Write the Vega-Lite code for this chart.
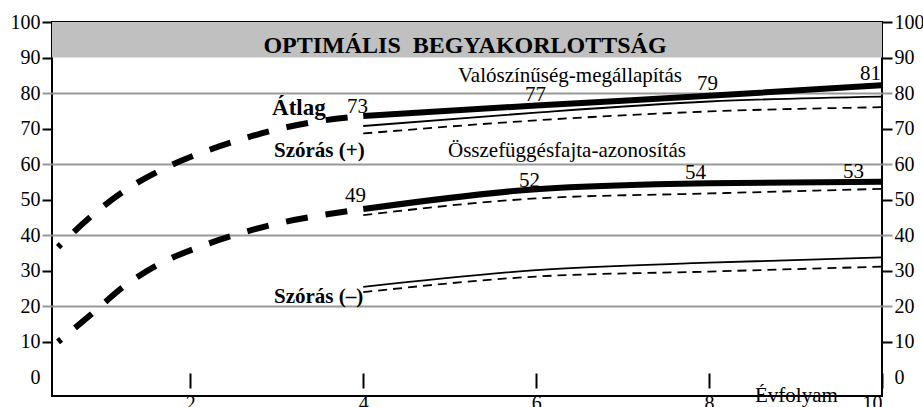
{
  "$schema": "https://vega.github.io/schema/vega-lite/v6.json",
  "width": 830,
  "height": 374,
  "autosize": "none",
  "padding": {"left": 52, "top": 22, "right": 41, "bottom": 11},
  "background": "white",
  "config": {
    "view": {"stroke": "black", "strokeWidth": 2},
    "font": "Liberation Serif",
    "axis": {"labelFont": "Liberation Serif", "labelFontSize": 20, "labelColor": "black", "tickColor": "black"}
  },
  "datasets": {
    "lines": [
      {"series": "V_avg_dash", "style": "thickdash", "x": 0.47, "y": 36.6},
      {"series": "V_avg_dash", "style": "thickdash", "x": 0.84, "y": 45.0},
      {"series": "V_avg_dash", "style": "thickdash", "x": 1.24, "y": 52.5},
      {"series": "V_avg_dash", "style": "thickdash", "x": 1.65, "y": 58.2},
      {"series": "V_avg_dash", "style": "thickdash", "x": 2.11, "y": 63.0},
      {"series": "V_avg_dash", "style": "thickdash", "x": 2.57, "y": 66.8},
      {"series": "V_avg_dash", "style": "thickdash", "x": 3.01, "y": 69.8},
      {"series": "V_avg_dash", "style": "thickdash", "x": 3.52, "y": 72.2},
      {"series": "V_avg_dash", "style": "thickdash", "x": 4.0, "y": 73.5},
      {"series": "O_avg_dash", "style": "thickdash", "x": 0.47, "y": 9.9},
      {"series": "O_avg_dash", "style": "thickdash", "x": 0.87, "y": 18.0},
      {"series": "O_avg_dash", "style": "thickdash", "x": 1.22, "y": 25.3},
      {"series": "O_avg_dash", "style": "thickdash", "x": 1.64, "y": 31.8},
      {"series": "O_avg_dash", "style": "thickdash", "x": 2.11, "y": 36.7},
      {"series": "O_avg_dash", "style": "thickdash", "x": 2.57, "y": 40.4},
      {"series": "O_avg_dash", "style": "thickdash", "x": 3.0, "y": 43.2},
      {"series": "O_avg_dash", "style": "thickdash", "x": 3.5, "y": 45.5},
      {"series": "O_avg_dash", "style": "thickdash", "x": 4.0, "y": 47.3},
      {"series": "V_avg", "style": "thick", "x": 4, "y": 73.5},
      {"series": "V_avg", "style": "thick", "x": 6, "y": 76.5},
      {"series": "V_avg", "style": "thick", "x": 8, "y": 79.2},
      {"series": "V_avg", "style": "thick", "x": 10, "y": 82.2},
      {"series": "O_avg", "style": "thick", "x": 4, "y": 47.3},
      {"series": "O_avg", "style": "thick", "x": 6, "y": 52.9},
      {"series": "O_avg", "style": "thick", "x": 8, "y": 54.6},
      {"series": "O_avg", "style": "thick", "x": 10, "y": 55.0},
      {"series": "V_sd_plus", "style": "thin", "x": 4, "y": 70.7},
      {"series": "V_sd_plus", "style": "thin", "x": 6, "y": 74.5},
      {"series": "V_sd_plus", "style": "thin", "x": 8, "y": 77.6},
      {"series": "V_sd_plus", "style": "thin", "x": 10, "y": 79.0},
      {"series": "O_sd_minus", "style": "thin", "x": 4, "y": 25.4},
      {"series": "O_sd_minus", "style": "thin", "x": 6, "y": 30.1},
      {"series": "O_sd_minus", "style": "thin", "x": 8, "y": 32.2},
      {"series": "O_sd_minus", "style": "thin", "x": 10, "y": 33.7},
      {"series": "V_dash", "style": "dash", "x": 4, "y": 68.6},
      {"series": "V_dash", "style": "dash", "x": 6, "y": 72.3},
      {"series": "V_dash", "style": "dash", "x": 8, "y": 74.8},
      {"series": "V_dash", "style": "dash", "x": 10, "y": 76.0},
      {"series": "O_dash", "style": "dash", "x": 4, "y": 45.6},
      {"series": "O_dash", "style": "dash", "x": 6, "y": 50.3},
      {"series": "O_dash", "style": "dash", "x": 8, "y": 51.7},
      {"series": "O_dash", "style": "dash", "x": 10, "y": 53.0},
      {"series": "O_dash_minus", "style": "dash", "x": 4, "y": 23.9},
      {"series": "O_dash_minus", "style": "dash", "x": 6, "y": 28.3},
      {"series": "O_dash_minus", "style": "dash", "x": 8, "y": 29.7},
      {"series": "O_dash_minus", "style": "dash", "x": 10, "y": 31.1}
    ]
  },
  "encoding": {
    "x": {"field": "x", "type": "quantitative", "scale": {"domain": [0.4, 10], "nice": false, "zero": false},
      "axis": {"orient": "bottom", "values": [2, 4, 6, 8, 10], "domain": false, "grid": false, "offset": -8, "tickSize": -15, "tickWidth": 2, "labelPadding": 20, "labelFont": "Liberation Serif", "labelFontSize": 20, "labelColor": "black", "title": null}},
    "y": {"field": "y", "type": "quantitative", "scale": {"domain": [-5.35, 100], "nice": false, "zero": false}, "axis": null}
  },
  "layer": [
    {
      "data": {"values": [{"x": 0.4, "x2": 10, "y": 90, "y2": 100}]},
      "mark": {"type": "rect", "fill": "#c0c0c0"},
      "encoding": {
        "x2": {"field": "x2"},
        "y": {"field": "y", "type": "quantitative", "scale": {"domain": [-5.35, 100], "nice": false, "zero": false},
          "axis": {"orient": "left", "values": [0, 10, 20, 30, 40, 50, 60, 70, 80, 90, 100], "domain": false, "grid": true, "gridColor": "#999999", "gridWidth": 2,
            "gridOpacity": {"condition": {"test": "datum.value == 20 || datum.value == 40 || datum.value == 60 || datum.value == 80", "value": 1}, "value": 0},
            "tickColor": {"condition": {"test": "datum.value == 20 || datum.value == 40 || datum.value == 60 || datum.value == 80", "value": "#999999"}, "value": "black"},
            "tickOpacity": {"condition": {"test": "datum.value == 0", "value": 0}, "value": 1},
            "labelFont": "Liberation Serif", "labelFontSize": 20, "labelColor": "black",
            "tickSize": 10, "tickWidth": 2, "labelPadding": 2, "title": null}},
        "y2": {"field": "y2"}
      }
    },
    {
      "data": {"name": "lines"},
      "transform": [{"filter": "datum.style == 'thickdash'"}],
      "mark": {"type": "line", "color": "black", "strokeWidth": 6, "strokeDash": [22, 18], "strokeDashOffset": 18, "interpolate": "monotone", "strokeCap": "butt"},
      "encoding": {
        "detail": {"field": "series"},
        "y": {"field": "y", "type": "quantitative", "scale": {"domain": [-5.35, 100], "nice": false, "zero": false},
          "axis": {"orient": "right", "values": [0, 10, 20, 30, 40, 50, 60, 70, 80, 90, 100], "domain": false, "grid": false,
            "tickColor": {"condition": {"test": "datum.value == 20 || datum.value == 40 || datum.value == 60 || datum.value == 80", "value": "#999999"}, "value": "black"},
            "tickOpacity": {"condition": {"test": "datum.value == 0", "value": 0}, "value": 1},
            "labelFont": "Liberation Serif", "labelFontSize": 20, "labelColor": "black",
            "tickSize": 10, "tickWidth": 2, "labelPadding": 2, "title": null}}
      }
    },
    {
      "data": {"name": "lines"},
      "transform": [{"filter": "datum.style == 'thick'"}],
      "mark": {"type": "line", "color": "black", "strokeWidth": 6, "interpolate": "monotone"},
      "encoding": {"detail": {"field": "series"}}
    },
    {
      "data": {"name": "lines"},
      "transform": [{"filter": "datum.style == 'thin'"}],
      "mark": {"type": "line", "color": "black", "strokeWidth": 1.8, "interpolate": "monotone"},
      "encoding": {"detail": {"field": "series"}}
    },
    {
      "data": {"name": "lines"},
      "transform": [{"filter": "datum.style == 'dash'"}],
      "mark": {"type": "line", "color": "black", "strokeWidth": 1.8, "strokeDash": [9, 6], "interpolate": "monotone"},
      "encoding": {"detail": {"field": "series"}}
    },
    {
      "data": {"values": [{"x": 5.177, "y": 91.27, "text": "OPTIMÁLIS\u00a0 BEGYAKORLOTTSÁG"}]},
      "mark": {"type": "text", "font": "Liberation Serif", "fontWeight": "bold", "fontSize": 24, "align": "center", "baseline": "alphabetic", "color": "black"},
      "encoding": {"text": {"field": "text"}}
    },
    {
      "data": {"values": [
        {"x": 5.096, "y": 83.1, "text": "Valószínűség-megállapítás"},
        {"x": 4.98, "y": 61.97, "text": "Összefüggésfajta-azonosítás"},
        {"x": 8.531, "y": -7.04, "text": "Évfolyam"},
        {"x": 3.812, "y": 74.4, "text": "73"},
        {"x": 5.871, "y": 77.8, "text": "77"},
        {"x": 7.86, "y": 80.85, "text": "79"},
        {"x": 9.745, "y": 83.66, "text": "81"},
        {"x": 3.789, "y": 49.3, "text": "49"},
        {"x": 5.801, "y": 53.5, "text": "52"},
        {"x": 7.721, "y": 55.8, "text": "54"},
        {"x": 9.549, "y": 56.06, "text": "53"}
      ]},
      "mark": {"type": "text", "font": "Liberation Serif", "fontSize": 21, "align": "left", "baseline": "alphabetic", "color": "black"},
      "encoding": {"text": {"field": "text"}}
    },
    {
      "data": {"values": [{"x": 2.945, "y": 73.8, "text": "Átlag"}]},
      "mark": {"type": "text", "font": "Liberation Serif", "fontWeight": "bold", "fontSize": 23, "align": "left", "baseline": "alphabetic", "color": "black"},
      "encoding": {"text": {"field": "text"}}
    },
    {
      "data": {"values": [
        {"x": 2.968, "y": 61.97, "text": "Szórás (+)"},
        {"x": 2.968, "y": 20.85, "text": "Szórás (–)"}
      ]},
      "mark": {"type": "text", "font": "Liberation Serif", "fontWeight": "bold", "fontSize": 21, "align": "left", "baseline": "alphabetic", "color": "black"},
      "encoding": {"text": {"field": "text"}}
    }
  ],
  "resolve": {"axis": {"y": "independent"}}
}
